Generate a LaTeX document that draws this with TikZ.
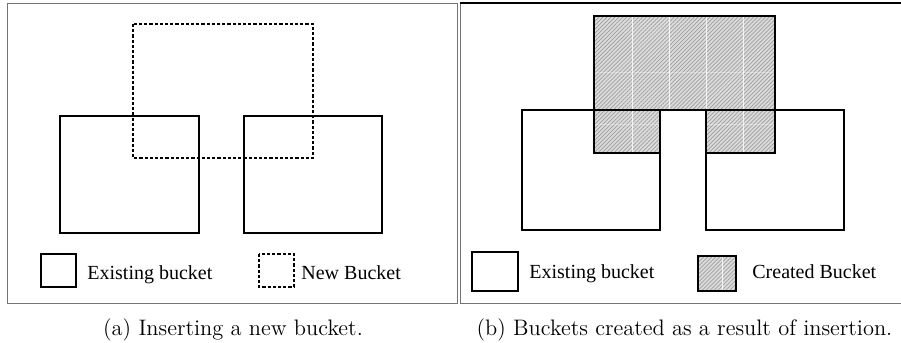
\documentclass[tikz,border=0pt]{standalone}
\usepackage{fontspec}
\newfontfamily\legendfont{Liberation Serif}
\usetikzlibrary{patterns.meta}
\begin{document}
\begin{tikzpicture}[x=0.5pt,y=-0.5pt,
  frame/.style={draw=black!55,line width=0.5pt},
  bucket/.style={draw=black,line width=0.75pt},
  newbucket/.style={draw=black,line width=0.75pt,dash pattern=on 1.6pt off 1pt},
  hatch/.style={fill=black!14,
    postaction={pattern={Lines[angle=45,distance=1.4pt,line width=0.35pt]},pattern color=black!38}},
  seam/.style={draw=white,draw opacity=0.8,line width=0.4pt},
  hseam/.style={draw=white,draw opacity=0.35,line width=0.5pt},
  legendtext/.style={anchor=base west,inner sep=0pt,font=\legendfont\fontsize{10}{12}\selectfont},
  captext/.style={anchor=base,inner sep=0pt,font=\fontsize{11.2}{13}\selectfont}]
\useasboundingbox (0,0) rectangle (901,343);

% ---------- (a) inserting a new bucket ----------
\draw[frame] (7,3) rectangle (457,303);
\draw[bucket] (60,116) rectangle (199,233);
\draw[bucket] (244,116) rectangle (382,233);
\draw[newbucket] (133,24) rectangle (313,158);
% legend
\draw[bucket] (41,254) rectangle (76,287);
\node[legendtext] (exA) at (87,279) {Existing bucket};
\draw[newbucket] (259,254) rectangle (294,287);
\node[legendtext] (newB) at (301,279) {New Bucket};
\node[captext] (capA) at (233,335) {(a) Inserting a new bucket.};

% ---------- (b) buckets created by the insertion ----------
\draw[frame] (901,3) -- (460,3) -- (460,303) -- (901,303);
\draw[black,line width=0.6pt] (460,3) -- (901,3);
% created (hatched) regions
\path[hatch] (594,16) rectangle (775,110);
\path[hatch] (594,110) rectangle (660,153);
\path[hatch] (706,110) rectangle (775,153);
% tile seams of the hatching
\foreach \sx in {632,669}
  \draw[seam] (\sx,16) -- (\sx,153);
\foreach \sx in {706,743}
  \draw[seam] (\sx,16) -- (\sx,110);
\draw[seam] (743,110) -- (743,153);
\draw[hseam] (594,72) -- (775,72);
\draw[hseam] (594,124) -- (660,124);
\draw[hseam] (706,124) -- (775,124);
% existing buckets
\draw[bucket] (522,110) rectangle (660,230);
\draw[bucket] (706,110) rectangle (844,230);
% outlines of created buckets
\draw[bucket] (594,16) rectangle (775,110);
\draw[bucket] (594,110) -- (594,153) -- (660,153);
\draw[bucket] (706,153) -- (775,153) -- (775,110);
% legend
\draw[bucket] (472,252) rectangle (518,291);
\node[legendtext] (exB) at (529,278) {Existing bucket};
\path[hatch] (698,256) rectangle (736,291);
\draw[seam] (722,256) -- (722,291);
\draw[bucket] (698,256) rectangle (736,291);
\node[legendtext] (crB) at (752,278) {Created Bucket};
\node[captext] (capB) at (684.5,335) {(b) Buckets created as a result of insertion.};
\end{tikzpicture}
\end{document}
